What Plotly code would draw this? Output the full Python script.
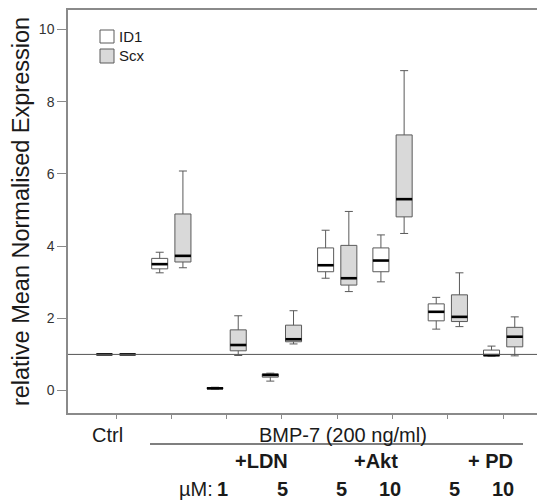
import plotly.graph_objects as go

# ---- data ----
categories = ["Ctrl", "BMP-7", "LDN 1", "LDN 5", "Akt 5", "Akt 10", "PD 5", "PD 10"]

id1_low = [1.00, 3.26, 0.04, 0.26, 3.11, 3.01, 1.70, 0.95]
id1_q1 = [1.00, 3.37, 0.05, 0.37, 3.29, 3.29, 1.93, 0.96]
id1_med = [1.00, 3.50, 0.06, 0.43, 3.47, 3.60, 2.18, 0.98]
id1_q3 = [1.00, 3.66, 0.08, 0.46, 3.95, 3.95, 2.40, 1.12]
id1_high = [1.00, 3.83, 0.09, 0.48, 4.44, 4.31, 2.58, 1.23]

scx_low = [1.00, 3.40, 0.97, 1.29, 2.74, 4.35, 1.77, 0.96]
scx_q1 = [1.00, 3.56, 1.10, 1.35, 2.92, 4.81, 1.91, 1.21]
scx_med = [1.00, 3.73, 1.26, 1.42, 3.11, 5.30, 2.04, 1.49]
scx_q3 = [1.00, 4.89, 1.68, 1.81, 4.02, 7.08, 2.65, 1.75]
scx_high = [1.00, 6.08, 2.07, 2.21, 4.96, 8.86, 3.26, 2.04]

baseline = 1.0
y_ticks = [0, 2, 4, 6, 8, 10]
dose_labels = ["1", "5", "5", "10", "5", "10"]
group_labels = ["+LDN", "+Akt", "+ PD"]

# ---- style ----
FONT = "Arial, Liberation Sans, sans-serif"
BOX_LINE = "#5a5a5a"
AXIS = "#8a8a8a"
OFF = 0.21
BW = 0.29

# the html page body has an 8px margin; work in page pixels and convert
PAGE_OFF = 8
W, H = 545 - PAGE_OFF, 502 - PAGE_OFF
PLOT_L, PLOT_R, PLOT_T, PLOT_B = 68, 545, 10, 413  # page pixels
L = PLOT_L - PAGE_OFF
T = PLOT_T - PAGE_OFF
R = 0
B = H - (PLOT_B - PAGE_OFF)

idx = list(range(len(categories)))
fig = go.Figure()

series = [
    ("ID1", -OFF, "white", id1_low, id1_q1, id1_med, id1_q3, id1_high),
    ("Scx", OFF, "#d9d9d9", scx_low, scx_q1, scx_med, scx_q3, scx_high),
]
for name, off, fill, lo, q1, med, q3, hi in series:
    xs = [i + off for i in idx]
    fig.add_trace(go.Box(
        name=name, x=xs, lowerfence=lo, q1=q1, median=med, q3=q3, upperfence=hi,
        width=BW, whiskerwidth=0.5, fillcolor=fill,
        line=dict(color=BOX_LINE, width=1), showlegend=False,
        boxpoints=False, hoverinfo="skip",
    ))
    mx, my = [], []
    for x, m in zip(xs, med):
        mx += [x - BW / 2, x + BW / 2, None]
        my += [m, m, None]
    fig.add_trace(go.Scatter(x=mx, y=my, mode="lines",
                             line=dict(color="black", width=2.6),
                             showlegend=False, hoverinfo="skip"))


def px(x):
    return (x - PLOT_L) / (PLOT_R - PLOT_L)


def py(y):
    return (PLOT_B - y) / (PLOT_B - PLOT_T)


shapes = [
    dict(type="line", xref="paper", yref="y", x0=0, x1=1, y0=baseline, y1=baseline,
         line=dict(color="#555555", width=1)),
    # legend swatches
    dict(type="rect", xref="paper", yref="paper", x0=px(100), x1=px(114), y0=py(30), y1=py(43),
         fillcolor="white", line=dict(color=BOX_LINE, width=1)),
    dict(type="rect", xref="paper", yref="paper", x0=px(100), x1=px(114), y0=py(49), y1=py(63),
         fillcolor="#d9d9d9", line=dict(color=BOX_LINE, width=1)),
    # bracket line under BMP-7 label
    dict(type="line", xref="paper", yref="paper", x0=px(150), x1=px(523), y0=py(444), y1=py(444),
         line=dict(color="#555555", width=1.5)),
]

ann = []


def text(t, x, y, size=20, bold=False, anchor="center"):
    ann.append(dict(text=("<b>%s</b>" % t) if bold else t, x=px(x), y=py(y),
                    xref="paper", yref="paper", xanchor=anchor, yanchor="middle",
                    showarrow=False, font=dict(family=FONT, size=size, color="#1a1a1a")))


text("ID1", 117, 37, size=15, anchor="left")
text("Scx", 117, 56, size=15, anchor="left")
text(categories[0], 107, 435)
text("BMP-7 (200 ng/ml)", 343, 435)
for g, gx in zip(group_labels, [261, 376, 490]):
    text(g, gx, 461, bold=True)
text("µM:", 196, 489)
for d, dx in zip(dose_labels, [222, 282, 341, 390, 454, 503]):
    text(d, dx, 489, bold=True)

fig.update_layout(
    width=W, height=H, margin=dict(l=L, r=R, t=T, b=B, pad=0),
    paper_bgcolor="white", plot_bgcolor="white",
    shapes=shapes, annotations=ann,
    font=dict(family=FONT, color="#333333"),
    xaxis=dict(range=[-0.868, 7.757], tickvals=idx, ticktext=[""] * len(idx),
               ticks="outside", ticklen=4, tickcolor=AXIS, showgrid=False, zeroline=False,
               showline=True, linecolor=AXIS, linewidth=1.5, mirror=True),
    yaxis=dict(range=[-0.623, 10.54], tickvals=y_ticks, ticks="outside", ticklen=9,
               tickcolor=AXIS, showgrid=False, zeroline=False, showline=True,
               linecolor=AXIS, linewidth=1.5, tickfont=dict(size=14, color="#333333"),
               title=dict(text="relative Mean Normalised Expression",
                          font=dict(size=23.5, color="#1a1a1a"), standoff=6)),
)

fig.write_html("out.html")
